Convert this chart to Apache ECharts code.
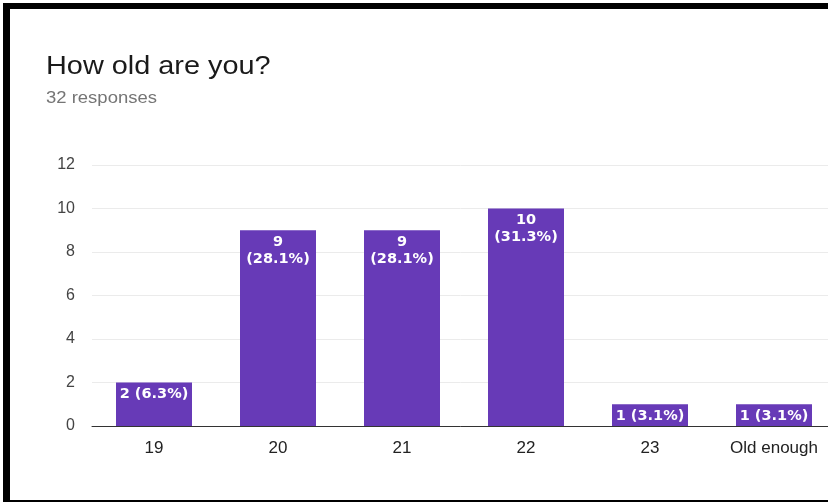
<!DOCTYPE html>
<html>
<head>
<meta charset="utf-8">
<title>How old are you?</title>
<script src="https://cdn.jsdelivr.net/npm/echarts@6/dist/echarts.min.js"></script>
<style>
  html, body { margin: 0; padding: 0; background: #ffffff; }
  #chart { width: 828px; height: 502px; }
</style>
</head>
<body>
<div id="chart"></div>
<script>
// Survey answers: age groups, response counts and their share of 32 responses
const categories = ['19', '20', '21', '22', '23', 'Old enough'];
const counts = [2, 9, 9, 10, 1, 1];
const percents = ['6.3%', '28.1%', '28.1%', '31.3%', '3.1%', '3.1%'];
const yTicks = [0, 2, 4, 6, 8, 10, 12];

const FONT = '"Liberation Sans", Arial, sans-serif';
const LABEL_FONT = '"DejaVu Sans", "Liberation Sans", sans-serif';
const chart = echarts.init(document.getElementById('chart'), null, { renderer: 'canvas' });

chart.setOption({
  backgroundColor: '#ffffff',
  animation: false,
  // the plot runs slightly past the right edge of the page
  grid: { left: 92, top: 165, width: 744, height: 261, containLabel: false, outerBoundsMode: 'none' },
  xAxis: {
    type: 'category',
    data: categories,
    axisLine: { lineStyle: { color: '#333333', width: 1 } },
    axisTick: { show: false },
    axisLabel: { fontFamily: FONT, fontSize: 17, color: '#222222', margin: 14 }
  },
  yAxis: {
    type: 'value',
    min: yTicks[0],
    max: yTicks[yTicks.length - 1],
    interval: 2,
    axisLine: { show: false },
    axisTick: { show: false },
    axisLabel: { fontFamily: FONT, fontSize: 16, color: '#444444', margin: 17 },
    splitLine: { lineStyle: { color: '#ebebeb', width: 1 } }
  },
  series: [{
    type: 'bar',
    data: counts,
    barWidth: 76,
    itemStyle: { color: '#673ab7' },
    label: {
      show: true,
      position: 'insideTop',
      distance: 3,
      fontFamily: LABEL_FONT,
      fontSize: 14.5,
      fontWeight: 'bold',
      lineHeight: 17,
      color: '#ffffff',
      formatter: (p) => {
        const pct = percents[p.dataIndex];
        return p.value >= 3 ? p.value + '\n(' + pct + ')' : p.value + ' (' + pct + ')';
      }
    }
  }],
  graphic: [
    // heading and response count
    {
      type: 'text', x: 46, y: 54, scaleX: 1.11, z: 50,
      style: { text: 'How old are you?', fontFamily: FONT, fontSize: 26, fill: '#1a1a1a', verticalAlign: 'top' }
    },
    {
      type: 'text', x: 46, y: 90, scaleX: 1.12, z: 50,
      style: { text: '32 responses', fontFamily: FONT, fontSize: 16.5, fill: '#757575', verticalAlign: 'top' }
    },
    // black frame on top, left and bottom
    { type: 'rect', shape: { x: 3, y: 3, width: 825, height: 6 }, style: { fill: '#000000' }, z: 100 },
    { type: 'rect', shape: { x: 3, y: 3, width: 7, height: 499 }, style: { fill: '#000000' }, z: 100 },
    { type: 'rect', shape: { x: 3, y: 500, width: 825, height: 2 }, style: { fill: '#000000' }, z: 100 }
  ]
});
</script>
</body>
</html>
